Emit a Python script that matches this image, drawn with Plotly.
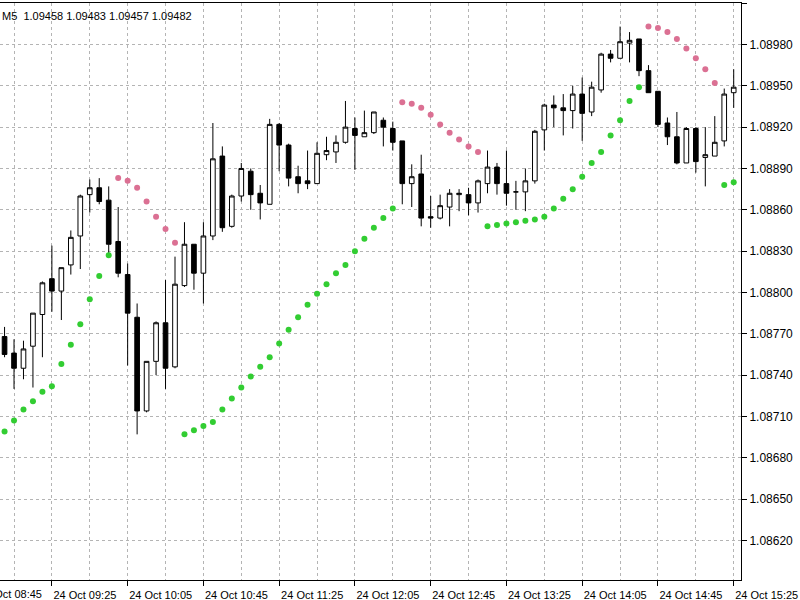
import pandas as pd
import plotly.graph_objects as go

# 5-minute bars, 24 Oct, starting 09:00
times = pd.date_range("2023-10-24 09:00", periods=78, freq="5min")

open_ = [1.08768, 1.08756, 1.08745, 1.08761, 1.08784, 1.08810, 1.08801, 1.08820, 1.08841, 1.08871,
         1.08876, 1.08867, 1.08837, 1.08813, 1.08782, 1.08714, 1.08750, 1.08778, 1.08746, 1.08805,
         1.08835, 1.08814, 1.08841, 1.08899, 1.08848, 1.08870, 1.08888, 1.08872, 1.08864, 1.08922,
         1.08907, 1.08884, 1.08881, 1.08879, 1.08900, 1.08902, 1.08909, 1.08919, 1.08913, 1.08916,
         1.08925, 1.08919, 1.08910, 1.08879, 1.08886, 1.08855, 1.08854, 1.08862, 1.08871, 1.08871,
         1.08865, 1.08879, 1.08891, 1.08879, 1.08873, 1.08873, 1.08881, 1.08918, 1.08936, 1.08934,
         1.08932, 1.08944, 1.08931, 1.08947, 1.08973, 1.08970, 1.08981, 1.08984, 1.08961, 1.08946,
         1.08923, 1.08913, 1.08894, 1.08919, 1.08898, 1.08899, 1.08910, 1.08945]

high = [1.08775, 1.08766, 1.08765, 1.08785, 1.08808, 1.08834, 1.08818, 1.08845, 1.08871, 1.08882,
        1.08883, 1.08877, 1.08862, 1.08821, 1.08792, 1.08750, 1.08779, 1.08809, 1.08826, 1.08851,
        1.08835, 1.08851, 1.08923, 1.08906, 1.08871, 1.08894, 1.08890, 1.08878, 1.08926, 1.08923,
        1.08908, 1.08892, 1.08903, 1.08909, 1.08913, 1.08914, 1.08939, 1.08927, 1.08932, 1.08931,
        1.08927, 1.08924, 1.08910, 1.08893, 1.08900, 1.08870, 1.08871, 1.08875, 1.08875, 1.08876,
        1.08882, 1.08903, 1.08894, 1.08903, 1.08881, 1.08890, 1.08918, 1.08937, 1.08943, 1.08944,
        1.08950, 1.08956, 1.08953, 1.08974, 1.08976, 1.08993, 1.08989, 1.08984, 1.08965, 1.08946,
        1.08927, 1.08931, 1.08920, 1.08920, 1.08920, 1.08928, 1.08948, 1.08962]

low = [1.08753, 1.08730, 1.08737, 1.08731, 1.08753, 1.08786, 1.08780, 1.08813, 1.08817, 1.08858,
       1.08864, 1.08828, 1.08811, 1.08747, 1.08697, 1.08713, 1.08740, 1.08730, 1.08745, 1.08804,
       1.08802, 1.08792, 1.08838, 1.08844, 1.08847, 1.08866, 1.08860, 1.08853, 1.08864, 1.08888,
       1.08877, 1.08872, 1.08875, 1.08879, 1.08896, 1.08894, 1.08908, 1.08889, 1.08913, 1.08915,
       1.08906, 1.08903, 1.08864, 1.08862, 1.08848, 1.08847, 1.08853, 1.08848, 1.08859, 1.08856,
       1.08858, 1.08872, 1.08871, 1.08863, 1.08860, 1.08859, 1.08879, 1.08903, 1.08920, 1.08914,
       1.08919, 1.08910, 1.08928, 1.08945, 1.08967, 1.08970, 1.08967, 1.08957, 1.08945, 1.08920,
       1.08907, 1.08893, 1.08894, 1.08887, 1.08877, 1.08899, 1.08906, 1.08934]

close = [1.08755, 1.08745, 1.08759, 1.08785, 1.08807, 1.08801, 1.08818, 1.08840, 1.08870, 1.08876,
         1.08866, 1.08835, 1.08814, 1.08785, 1.08714, 1.08750, 1.08778, 1.08745, 1.08806, 1.08835,
         1.08814, 1.08841, 1.08897, 1.08847, 1.08870, 1.08890, 1.08871, 1.08865, 1.08922, 1.08907,
         1.08883, 1.08879, 1.08879, 1.08901, 1.08903, 1.08909, 1.08920, 1.08914, 1.08916, 1.08931,
         1.08920, 1.08909, 1.08879, 1.08884, 1.08854, 1.08854, 1.08863, 1.08872, 1.08872, 1.08865,
         1.08881, 1.08891, 1.08879, 1.08872, 1.08873, 1.08881, 1.08917, 1.08936, 1.08934, 1.08932,
         1.08944, 1.08930, 1.08949, 1.08973, 1.08970, 1.08982, 1.08983, 1.08961, 1.08945, 1.08922,
         1.08913, 1.08894, 1.08919, 1.08895, 1.08900, 1.08909, 1.08944, 1.08949]

sar = [1.08699, 1.08707, 1.08715, 1.08721, 1.08728, 1.08732, 1.08748, 1.08762, 1.08777, 1.08795,
       1.08812, 1.08827, 1.08883, 1.08881, 1.08876, 1.08866, 1.08855, 1.08846, 1.08836, 1.08697,
       1.08700, 1.08703, 1.08706, 1.08715, 1.08723, 1.08731, 1.08739, 1.08746, 1.08753, 1.08763,
       1.08773, 1.08782, 1.08791, 1.08799, 1.08806, 1.08814, 1.08820, 1.08830, 1.08839, 1.08847,
       1.08854, 1.08861, 1.08938, 1.08937, 1.08934, 1.08929, 1.08922, 1.08916, 1.08911, 1.08906,
       1.08902, 1.08848, 1.08849, 1.08850, 1.08851, 1.08852, 1.08853, 1.08855, 1.08861, 1.08868,
       1.08875, 1.08884, 1.08894, 1.08902, 1.08914, 1.08925, 1.08939, 1.08949, 1.08993, 1.08992,
       1.08989, 1.08984, 1.08977, 1.08970, 1.08962, 1.08952, 1.08878, 1.08880]

header_text = "M5  1.09458 1.09483 1.09457 1.09482"
cut_label = "24 Oct 08:45"

FONT = "Liberation Sans"
sar_colors = ["#DB7093" if s > h else "#32CD32" for s, h in zip(sar, high)]

fig = go.Figure()
fig.add_trace(go.Candlestick(
    x=times, open=open_, high=high, low=low, close=close,
    increasing=dict(fillcolor="white", line=dict(color="black", width=1)),
    decreasing=dict(fillcolor="black", line=dict(color="black", width=1)),
    whiskerwidth=0, hoverinfo="skip", showlegend=False,
))
fig.add_trace(go.Scatter(
    x=times, y=sar, mode="markers",
    marker=dict(size=6, color=sar_colors, line=dict(width=0)),
    hoverinfo="skip", showlegend=False,
))

grid_dash = "3px,3px"
fig.update_layout(
    width=800, height=600,
    margin=dict(l=0, r=59, t=3, b=20),
    paper_bgcolor="white", plot_bgcolor="white",
    font=dict(family=FONT, size=11, color="black"),
    xaxis=dict(
        type="date",
        range=["2023-10-24 08:57:36", "2023-10-24 15:28:51"],
        rangeslider=dict(visible=False),
        tick0="2023-10-24 09:25", dtick=40 * 60 * 1000,
        tickformat="%d %b %H:%M",
        ticks="outside", ticklen=5, tickcolor="black",
        ticklabelshift=33,
        showgrid=True, gridcolor="#b4b4b4", griddash=grid_dash, gridwidth=1,
        minor=dict(tick0="2023-10-24 09:25", dtick=20 * 60 * 1000, showgrid=True,
                   gridcolor="#b4b4b4", griddash=grid_dash, gridwidth=1),
        showline=True, linecolor="black", linewidth=1, mirror=True,
        zeroline=False,
    ),
    yaxis=dict(
        side="right",
        range=[1.085913, 1.090101],
        tick0=1.08620, dtick=0.0003, tickformat=".5f",
        tickfont=dict(family=FONT, size=12, color="black"),
        ticks="outside", ticklen=5, tickcolor="black",
        showgrid=True, gridcolor="#b4b4b4", griddash=grid_dash, gridwidth=1,
        showline=True, linecolor="black", linewidth=1,
        zeroline=False,
    ),
    annotations=[
        dict(text=header_text, xref="paper", yref="paper", x=0, y=1,
             xanchor="left", yanchor="top", yshift=-5, showarrow=False,
             font=dict(family=FONT, size=11, color="black")),
        dict(text=cut_label, xref="paper", yref="paper", x=-23 / 741, y=0,
             xanchor="left", yanchor="top", yshift=-6, showarrow=False,
             font=dict(family=FONT, size=11, color="black")),
    ],
)

fig.write_html("out.html")
